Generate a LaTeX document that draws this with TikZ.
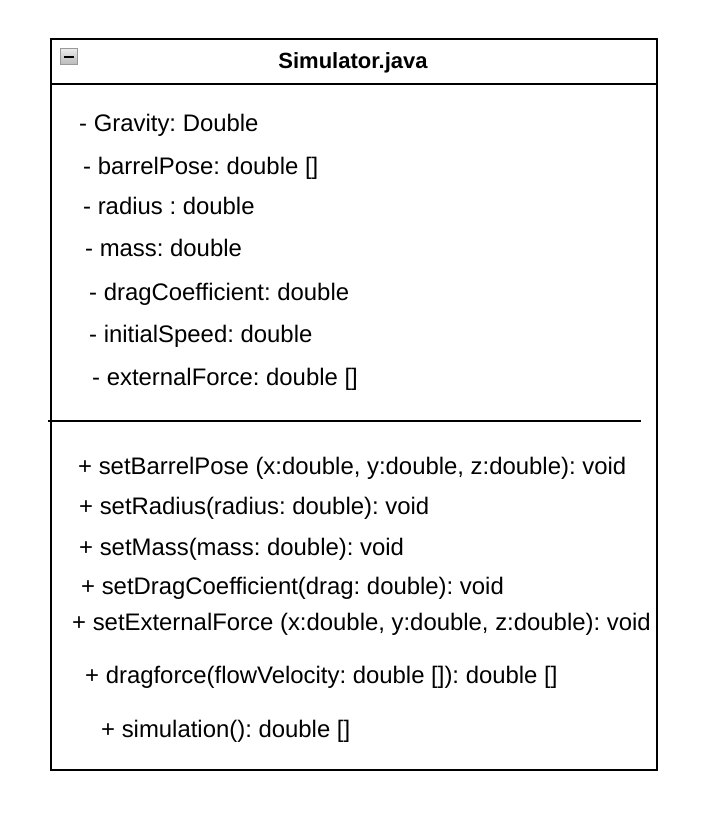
\documentclass[tikz,border=0pt]{standalone}
\usepackage{fontspec}
\setmainfont{Liberation Sans}
\begin{document}
\frenchspacing
\begin{tikzpicture}[x=1pt,y=-1pt,
  member/.style={anchor=base west,inner sep=0pt,font=\fontsize{23.9}{28}\selectfont\frenchspacing},
  ttl/.style={anchor=base,inner sep=0pt,font=\fontsize{22}{26}\selectfont\bfseries},
  frame/.style={line width=2pt,draw=black}]
\useasboundingbox (0,0) rectangle (722,814);
\draw[frame] (51,39) rectangle (657,770);
\draw[frame] (51,84) -- (657,84);
\draw[frame] (48,421) -- (641,421);
% collapse icon
\shade[top color=gray!15,bottom color=gray!55,draw=gray!80,line width=1.5pt] (60.5,48.5) rectangle (77.5,64.5);
\draw[line width=2pt,black] (64,57) -- (74,57);
\node[ttl] (title) at (353,68) {Simulator.java};
\node[member] (a1) at (79,131) {- Gravity: Double};
\node[member] (a2) at (83,174) {- barrelPose: double []};
\node[member] (a3) at (83,214) {- radius : double};
\node[member] (a4) at (85,256) {- mass: double};
\node[member] (a5) at (89,300) {- dragCoefficient: double};
\node[member] (a6) at (89,342) {- initialSpeed: double};
\node[member] (a7) at (92,385) {- externalForce: double []};
\node[member] (m1) at (78,474) {+ setBarrelPose (x:double, y:double, z:double): void};
\node[member] (m2) at (79,514) {+ setRadius(radius: double): void};
\node[member] (m3) at (79,555) {+ setMass(mass: double): void};
\node[member] (m4) at (81,594) {+ setDragCoefficient(drag: double): void};
\node[member] (m5) at (72,630) {+ setExternalForce (x:double, y:double, z:double): void};
\node[member] (m6) at (85,683) {+ dragforce(flowVelocity: double []): double []};
\node[member] (m7) at (101,737) {+ simulation(): double []};
\end{tikzpicture}
\end{document}
